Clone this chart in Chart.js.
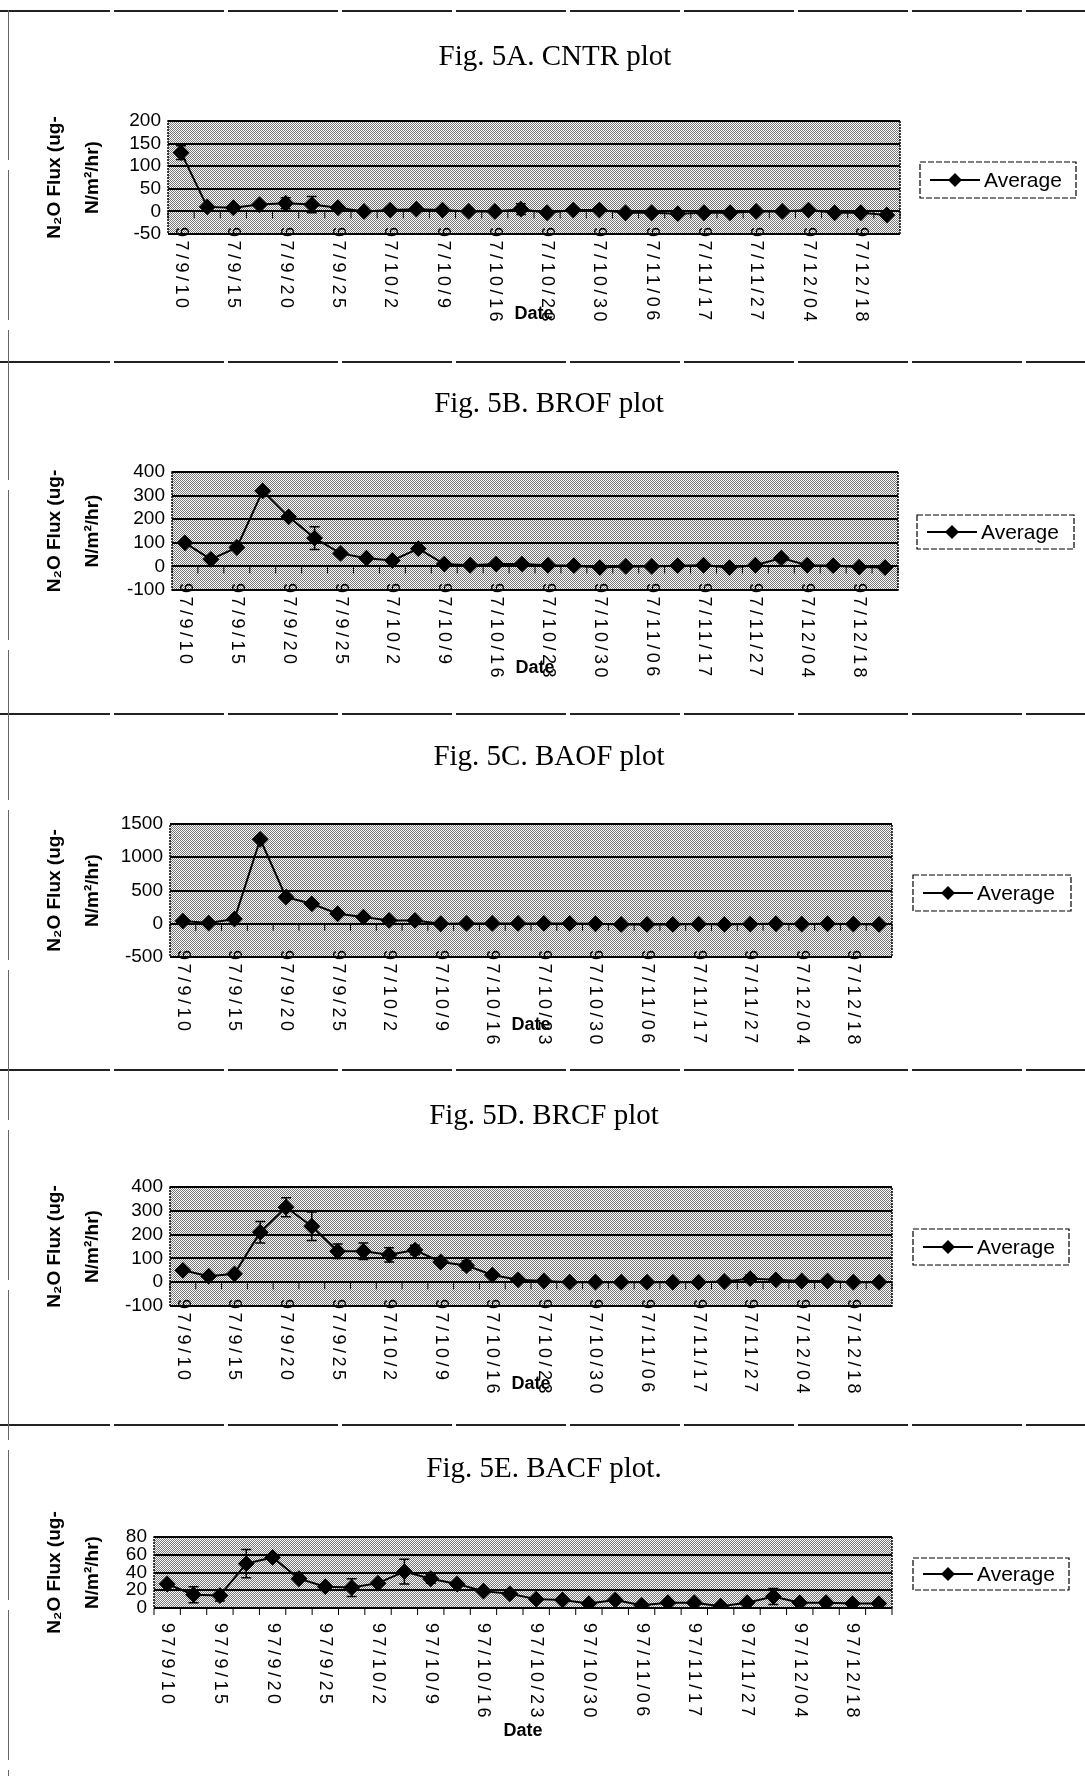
<!DOCTYPE html>
<html>
<head>
<meta charset="utf-8">
<script src="https://cdn.jsdelivr.net/npm/chart.js@4.4.0/dist/chart.umd.min.js"></script>
<style>
  body { margin: 0; background: #fff; width: 1085px; height: 1776px; position: relative; overflow: hidden; }
  .panel { position: absolute; left: 0; width: 1085px; }
  .sep { position: absolute; left: 0; width: 1085px; height: 2px;
         background: repeating-linear-gradient(90deg, #222 0 110px, transparent 110px 114px); }
  .vline { position: absolute; left: 8px; top: 10px; width: 1px; height: 1766px;
           background: repeating-linear-gradient(180deg, #666 0 150px, transparent 150px 160px); }
</style>
</head>
<body>
<div class="panel" style="top:0;height:362px"><canvas id="chartA" width="1085" height="362"></canvas></div>
<div class="panel" style="top:362px;height:352px"><canvas id="chartB" width="1085" height="352"></canvas></div>
<div class="panel" style="top:714px;height:356px"><canvas id="chartC" width="1085" height="356"></canvas></div>
<div class="panel" style="top:1070px;height:355px"><canvas id="chartD" width="1085" height="355"></canvas></div>
<div class="panel" style="top:1425px;height:351px"><canvas id="chartE" width="1085" height="351"></canvas></div>
<div class="sep" style="top:10px"></div>
<div class="sep" style="top:361px"></div>
<div class="sep" style="top:713px"></div>
<div class="sep" style="top:1069px"></div>
<div class="sep" style="top:1424px"></div>
<div class="vline"></div>

<script>
// ---- data ----
const X_LABELS = ['97/9/10','97/9/15','97/9/20','97/9/25','97/10/2','97/10/9','97/10/16',
                  '97/10/23','97/10/30','97/11/06','97/11/17','97/11/27','97/12/04','97/12/18'];
// 28 sampling dates, only every second one is labelled on the axis
const DATES = [];
X_LABELS.forEach(d => DATES.push(d, ''));

const CNTR_AVG = [130, 10, 8, 15, 18, 15, 8, 0, 3, 5, 3, 0, 0, 5, -3, 3, 3, -3, -3, -5, -3, -3, 0, 0, 3, -3, -3, -8];
const CNTR_ERR = [15, 0, 0, 0, 12, 18, 0, 0, 0, 0, 0, 0, 0, 12, 0, 0, 0, 0, 0, 0, 0, 0, 0, 0, 0, 0, 0, 0];
const CNTR_TICKS = [-50, 0, 50, 100, 150, 200];

const BROF_AVG = [100, 30, 80, 320, 210, 120, 55, 35, 25, 75, 10, 5, 10, 10, 5, 3, -5, 0, 0, 3, 5, -5, 5, 35, 5, 3, -3, -5];
const BROF_ERR = [0, 0, 0, 10, 10, 48, 0, 0, 0, 8, 0, 0, 0, 0, 0, 0, 0, 0, 0, 0, 0, 0, 0, 10, 0, 0, 0, 0];
const BROF_TICKS = [-100, 0, 100, 200, 300, 400];

const BAOF_AVG = [40, 10, 70, 1270, 400, 300, 150, 100, 50, 50, 0, 5, 5, 5, 5, 5, 0, -10, -10, -10, -5, -10, -5, 0, -5, 0, -5, -10];
const BAOF_ERR = [0, 0, 0, 0, 0, 0, 0, 0, 0, 0, 0, 0, 0, 0, 0, 0, 0, 0, 0, 0, 0, 0, 0, 0, 0, 0, 0, 0];
const BAOF_TICKS = [-500, 0, 500, 1000, 1500];

const BRCF_AVG = [50, 25, 35, 210, 315, 235, 130, 130, 115, 135, 85, 70, 30, 10, 5, 0, 0, 0, 0, 0, 0, 3, 15, 10, 5, 5, 0, 0];
const BRCF_ERR = [0, 0, 0, 45, 40, 60, 30, 35, 30, 20, 10, 20, 0, 0, 0, 0, 0, 0, 0, 0, 0, 0, 15, 0, 0, 0, 0, 0];
const BRCF_TICKS = [-100, 0, 100, 200, 300, 400];

const BACF_AVG = [27, 15, 14, 50, 57, 33, 24, 23, 28, 41, 33, 27, 19, 16, 10, 9, 5, 9, 3, 6, 6, 2, 6, 13, 6, 6, 5, 5];
const BACF_ERR = [0, 9, 6, 16, 0, 0, 0, 10, 0, 14, 5, 0, 0, 0, 0, 0, 0, 0, 0, 0, 0, 0, 0, 9, 0, 0, 0, 0];
const BACF_TICKS = [0, 20, 40, 60, 80];

// ---- look ----
const SANS = '"Liberation Sans", Arial, sans-serif';
const SERIF = '"Liberation Serif", "Times New Roman", serif';

// dotted halftone fill of the plot area
const patCanvas = document.createElement('canvas');
patCanvas.width = 2; patCanvas.height = 2;
const pctx = patCanvas.getContext('2d');
pctx.fillStyle = '#fff'; pctx.fillRect(0, 0, 2, 2);
pctx.fillStyle = '#777'; pctx.fillRect(0, 0, 1, 1); pctx.fillRect(1, 1, 1, 1);
const dotPattern = pctx.createPattern(patCanvas, 'repeat');

// background, error bars, rotated date labels, title and legend
const plotDecor = {
  id: 'plotDecor',
  beforeDraw(chart, args, o) {
    const { ctx, chartArea: a } = chart;
    ctx.save();
    ctx.fillStyle = dotPattern;
    ctx.fillRect(a.left, a.top, a.width, a.height);
    ctx.restore();
  },
  afterDatasetsDraw(chart, args, o) {
    const { ctx, chartArea: a } = chart;
    const xs = chart.scales.x, ys = chart.scales.y;
    const values = chart.data.datasets[0].data;
    ctx.save();

    // error bars
    ctx.strokeStyle = '#000';
    ctx.lineWidth = 1.5;
    o.err.forEach((e, i) => {
      if (!e) return;
      const x = xs.getPixelForValue(i);
      const y1 = ys.getPixelForValue(values[i] + e);
      const y2 = ys.getPixelForValue(values[i] - e);
      ctx.beginPath();
      ctx.moveTo(x, y1); ctx.lineTo(x, y2);
      ctx.moveTo(x - 5, y1); ctx.lineTo(x + 5, y1);
      ctx.moveTo(x - 5, y2); ctx.lineTo(x + 5, y2);
      ctx.stroke();
    });

    // plot border
    ctx.lineWidth = 1.5;
    ctx.setLineDash([2, 1]);
    ctx.strokeRect(a.left, a.top, a.width, a.height);
    ctx.setLineDash([]);

    // category tick marks on the axis line
    const axisY = o.axisAtZero ? ys.getPixelForValue(0) : a.bottom;
    const step = xs.getPixelForValue(1) - xs.getPixelForValue(0);
    ctx.lineWidth = 1;
    ctx.beginPath();
    for (let i = 0; i <= DATES.length; i++) {
      const x = xs.getPixelForValue(0) - step / 2 + i * step;
      ctx.moveTo(x, axisY); ctx.lineTo(x, axisY + 7);
    }
    ctx.stroke();

    // rotated date labels (read top to bottom)
    ctx.fillStyle = '#000';
    ctx.font = '18px ' + SANS;
    ctx.letterSpacing = '3.5px';
    ctx.textAlign = 'left';
    ctx.textBaseline = 'middle';
    DATES.forEach((d, i) => {
      if (!d) return;
      ctx.save();
      ctx.translate(xs.getPixelForValue(i), o.labelY);
      ctx.rotate(Math.PI / 2);
      ctx.fillText(d, 0, 0);
      ctx.restore();
    });
    ctx.letterSpacing = '0px';

    // axis name
    ctx.font = 'bold 18px ' + SANS;
    ctx.textAlign = 'center';
    ctx.fillText('Date', (a.left + a.right) / 2, o.dateY);

    // figure title
    ctx.font = '29px ' + SERIF;
    ctx.fillText(o.title, o.titleX, o.titleY);

    // legend
    const L = o.legend;
    const cy = L.y + L.h / 2;
    ctx.lineWidth = 1.2;
    ctx.setLineDash([6, 2]);
    ctx.strokeRect(L.x, L.y, L.w, L.h);
    ctx.setLineDash([]);
    ctx.lineWidth = 2;
    ctx.beginPath();
    ctx.moveTo(L.x + 10, cy); ctx.lineTo(L.x + 60, cy);
    ctx.stroke();
    ctx.beginPath();
    ctx.moveTo(L.x + 35, cy - 7); ctx.lineTo(L.x + 42, cy);
    ctx.lineTo(L.x + 35, cy + 7); ctx.lineTo(L.x + 28, cy);
    ctx.closePath(); ctx.fill();
    ctx.font = '21px ' + SANS;
    ctx.textAlign = 'left';
    ctx.fillText(chart.data.datasets[0].label, L.x + 64, cy + 1);

    ctx.restore();
  }
};

function makeChart(id, p) {
  const ticks = p.ticks;
  new Chart(document.getElementById(id), {
    type: 'line',
    data: {
      labels: DATES,
      datasets: [{
        label: 'Average',
        data: p.values,
        borderColor: '#000',
        borderWidth: 2,
        pointStyle: 'rectRot',
        pointRadius: 7,
        pointBackgroundColor: '#000',
        pointBorderColor: '#000',
        tension: 0
      }]
    },
    options: {
      responsive: false,
      animation: false,
      devicePixelRatio: 1,
      layout: { padding: { left: 36, top: p.plot.top, right: 1085 - p.plot.right, bottom: p.height - p.plot.bottom } },
      scales: {
        x: {
          type: 'category',
          offset: true,
          grid: { display: false },
          border: { display: false },
          ticks: { display: false },
          afterFit: s => { s.height = 0; }
        },
        y: {
          min: ticks[0], max: ticks[ticks.length - 1],
          afterBuildTicks: s => { s.ticks = ticks.map(v => ({ value: v })); },
          afterFit: s => { s.width = p.plot.left - 36; },
          grid: { color: '#000', lineWidth: 2, drawTicks: false },
          border: { display: false },
          ticks: {
            color: '#000', padding: 7, autoSkip: false,
            font: { family: SANS, size: 19 },
            callback: v => String(v)
          },
          title: {
            display: true,
            text: ['N\u2082O Flux (ug-', 'N/m\u00b2/hr)'],
            color: '#000',
            padding: 0,
            font: { family: SANS, size: 19, weight: 'bold', lineHeight: 2.0 }
          }
        }
      },
      plugins: {
        legend: { display: false },
        tooltip: { enabled: false },
        plotDecor: {
          title: p.title, titleX: p.titleX, titleY: p.titleY,
          err: p.err, axisAtZero: p.axisAtZero,
          labelY: p.labelY, dateY: p.dateY, legend: p.legend
        }
      }
    },
    plugins: [plotDecor]
  });
}

makeChart('chartA', {
  title: 'Fig. 5A. CNTR plot', titleX: 555, titleY: 57, height: 362,
  values: CNTR_AVG, err: CNTR_ERR, ticks: CNTR_TICKS, axisAtZero: true,
  plot: { left: 168, right: 900, top: 121, bottom: 234 },
  labelY: 227, dateY: 314, legend: { x: 920, y: 162, w: 156, h: 36 }
});
makeChart('chartB', {
  title: 'Fig. 5B. BROF plot', titleX: 549, titleY: 42, height: 352,
  values: BROF_AVG, err: BROF_ERR, ticks: BROF_TICKS, axisAtZero: true,
  plot: { left: 172, right: 898, top: 110, bottom: 228 },
  labelY: 221, dateY: 306, legend: { x: 917, y: 153, w: 157, h: 34 }
});
makeChart('chartC', {
  title: 'Fig. 5C. BAOF plot', titleX: 549, titleY: 43, height: 356,
  values: BAOF_AVG, err: BAOF_ERR, ticks: BAOF_TICKS, axisAtZero: true,
  plot: { left: 170, right: 892, top: 110, bottom: 243 },
  labelY: 236, dateY: 311, legend: { x: 913, y: 161, w: 158, h: 36 }
});
makeChart('chartD', {
  title: 'Fig. 5D. BRCF plot', titleX: 544, titleY: 46, height: 355,
  values: BRCF_AVG, err: BRCF_ERR, ticks: BRCF_TICKS, axisAtZero: true,
  plot: { left: 170, right: 892, top: 117, bottom: 236 },
  labelY: 229, dateY: 314, legend: { x: 913, y: 159, w: 156, h: 36 }
});
makeChart('chartE', {
  title: 'Fig. 5E. BACF plot.', titleX: 544, titleY: 44, height: 351,
  values: BACF_AVG, err: BACF_ERR, ticks: BACF_TICKS, axisAtZero: false,
  plot: { left: 154, right: 892, top: 112, bottom: 183 },
  labelY: 198, dateY: 306, legend: { x: 913, y: 133, w: 156, h: 32 }
});
</script>
</body>
</html>
